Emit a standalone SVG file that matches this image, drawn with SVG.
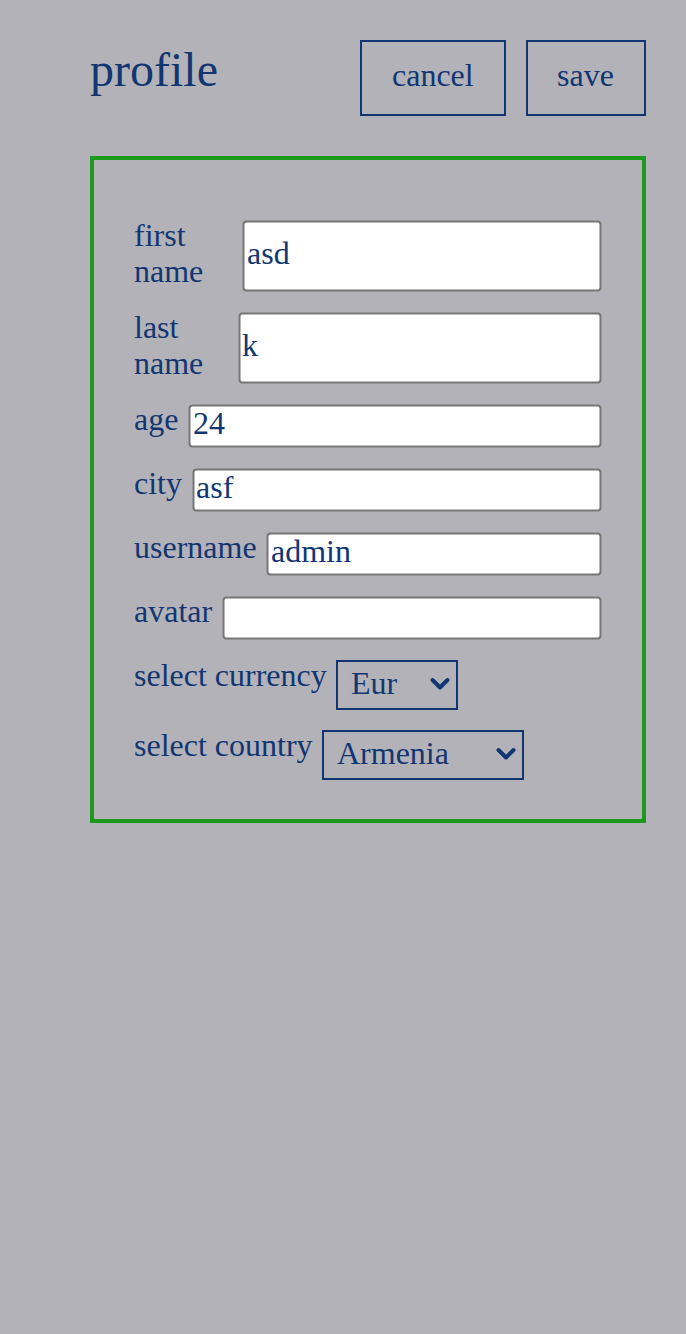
<svg xmlns="http://www.w3.org/2000/svg" width="686" height="1334" viewBox="0 0 686 1334">
<style>
text{font-family:"Liberation Serif","Times New Roman",serif;fill:#123672;font-size:32px}
.title{font-size:48px}
.btn{fill:none;stroke:#123672;stroke-width:2}
.inp{fill:#ffffff;stroke:#777777;stroke-width:2}
.sel{fill:none;stroke:#123672;stroke-width:2}
.chev{fill:none;stroke:#123672;stroke-width:4;stroke-linecap:round;stroke-linejoin:round}
</style>
<rect x="0" y="0" width="686" height="1334" fill="#b3b2b8"/>
<g id="header">
<text class="title" x="90" y="86">profile</text>
</g>
<g id="cancel-button">
<rect class="btn" x="361" y="41" width="144" height="74"/>
<text x="392" y="86">cancel</text>
</g>
<g id="save-button">
<rect class="btn" x="527" y="41" width="118" height="74"/>
<text x="557" y="86">save</text>
</g>
<g id="form">
<rect x="92" y="158" width="552" height="663" fill="none" stroke="#1c991c" stroke-width="4"/>
</g>
<g id="first-name">
<text x="134" y="246">first</text>
<text x="134" y="282">name</text>
<rect class="inp" x="243.5" y="221.5" width="357" height="69" rx="3"/>
<text x="247" y="264">asd</text>
</g>
<g id="last-name">
<text x="134" y="338">last</text>
<text x="134" y="374">name</text>
<rect class="inp" x="239.5" y="313.5" width="361" height="69" rx="3"/>
<text x="242" y="356">k</text>
</g>
<g id="age">
<text x="134" y="430">age</text>
<rect class="inp" x="189.5" y="405.5" width="411" height="41" rx="3"/>
<text x="193" y="434">24</text>
</g>
<g id="city">
<text x="134" y="494">city</text>
<rect class="inp" x="193.5" y="469.5" width="407" height="41" rx="3"/>
<text x="196" y="498">asf</text>
</g>
<g id="username">
<text x="134" y="558">username</text>
<rect class="inp" x="267.5" y="533.5" width="333" height="41" rx="3"/>
<text x="271" y="562">admin</text>
</g>
<g id="avatar">
<text x="134" y="622">avatar</text>
<rect class="inp" x="223.5" y="597.5" width="377" height="41" rx="3"/>
</g>
<g id="currency">
<text x="134" y="686">select currency</text>
<rect class="sel" x="337" y="661" width="120" height="48"/>
<text x="351" y="694">Eur</text>
<path class="chev" d="M432.5 680 L440 687.5 L447.5 680"/>
</g>
<g id="country">
<text x="134" y="756">select country</text>
<rect class="sel" x="323" y="731" width="200" height="48"/>
<text x="337" y="764">Armenia</text>
<path class="chev" d="M498.5 750 L506 757.5 L513.5 750"/>
</g>
</svg>
